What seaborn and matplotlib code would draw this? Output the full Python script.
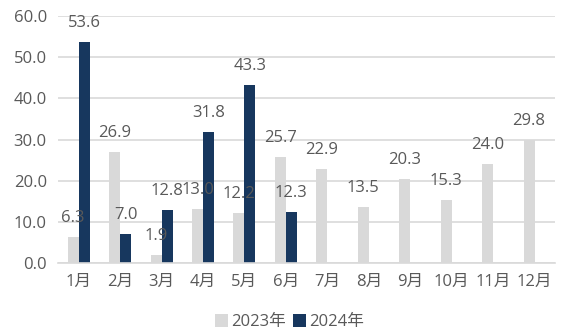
import matplotlib
matplotlib.use("Agg")
import matplotlib.pyplot as plt
import seaborn as sns
import pandas as pd

months = ["1月", "2月", "3月", "4月", "5月", "6月", "7月", "8月", "9月", "10月", "11月", "12月"]
values_2023 = [6.3, 26.9, 1.9, 13.0, 12.2, 25.7, 22.9, 13.5, 20.3, 15.3, 24.0, 29.8]
values_2024 = [53.6, 7.0, 12.8, 31.8, 43.3, 12.3]
series = ["2023年", "2024年"]
colors = ["#D9D9D9", "#17375E"]
yticks = [0, 10, 20, 30, 40, 50, 60]

rows = [(m, series[0], v) for m, v in zip(months, values_2023)]
rows += [(m, series[1], v) for m, v in zip(months, values_2024)]
df = pd.DataFrame(rows, columns=["month", "year", "value"])

sns.set_style("white")
plt.rcParams["font.family"] = ["Open Sans", "Noto Sans CJK SC", "DejaVu Sans"]
text_color = "#595959"

fig = plt.figure(figsize=(5.79, 3.34), dpi=100)
ax = fig.add_axes([0.100, 0.2126, 0.859, 0.7394])

sns.barplot(data=df, x="month", y="value", hue="year", order=months,
            hue_order=series, palette=colors, width=0.53, ax=ax,
            errorbar=None, saturation=1, edgecolor="none", linewidth=0)

for cont in ax.containers:
    ax.bar_label(cont, fmt="%.1f", padding=8, fontsize=12, color=text_color)

ax.set_ylim(0, 60)
ax.set_xlim(-0.5, 11.5)
ax.set_yticks(yticks)
ax.set_yticklabels([f"{t:.1f}" for t in yticks])
ax.yaxis.grid(True, color="#D9D9D9", linewidth=1.2)
ax.set_axisbelow(True)
for s in ["top", "right", "left"]:
    ax.spines[s].set_visible(False)
ax.spines["bottom"].set_color("#D9D9D9")
ax.spines["bottom"].set_linewidth(1.2)
ax.tick_params(axis="both", length=0, labelsize=12, colors=text_color, pad=8)
ax.set_xlabel("")
ax.set_ylabel("")

handles, labels = ax.get_legend_handles_labels()
if ax.legend_:
    ax.legend_.remove()
fig.legend(handles, labels, loc="center", bbox_to_anchor=(0.5, 0.035), ncol=2,
           frameon=False, fontsize=12, labelcolor=text_color, handlelength=0.8,
           handleheight=0.8, handletextpad=0.2, columnspacing=0.4)

fig.savefig("out.png", dpi=100)
